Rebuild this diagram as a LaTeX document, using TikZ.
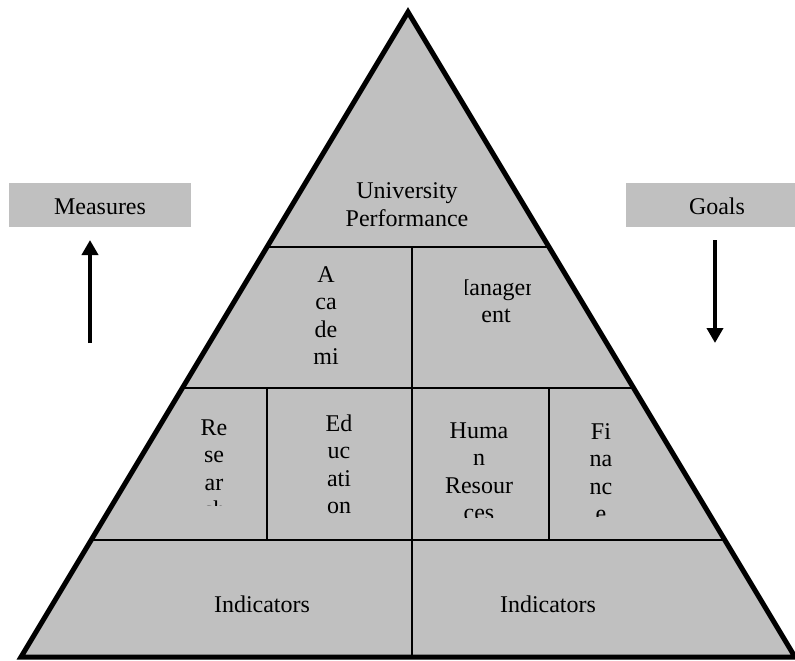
\documentclass[tikz,border=0pt]{standalone}
\usepackage{fontspec}
\setmainfont{Liberation Serif}
\usetikzlibrary{arrows.meta,calc}
\definecolor{silver}{HTML}{C0C0C0}
\begin{document}
\begin{tikzpicture}[x=1pt,y=-1pt,
  lbl/.style={inner sep=0pt,align=center,anchor=base,
    font=\fontsize{24}{27.5}\selectfont},
  outline/.style={line width=5pt,line join=miter},
  divider/.style={line width=2.6pt},
  tag/.style={fill=silver,draw=none},
  flow/.style={line width=4.5pt,-{Triangle[length=15pt,width=16pt]}}]
\useasboundingbox (0,0) rectangle (795,661);

% pyramid corners
\coordinate (apex) at (408,12);
\coordinate (bl) at (21,657);
\coordinate (br) at (795,657);

% band edges on the two sides
\coordinate (l1) at ($(apex)!0.3643!(bl)$);
\coordinate (r1) at ($(apex)!0.3643!(br)$);
\coordinate (l2) at ($(apex)!0.5829!(bl)$);
\coordinate (r2) at ($(apex)!0.5829!(br)$);
\coordinate (l3) at ($(apex)!0.8186!(bl)$);
\coordinate (r3) at ($(apex)!0.8186!(br)$);

\fill[silver] (apex) -- (bl) -- (br) -- cycle;

% horizontal bands
\draw[divider] (l1) -- (r1);
\draw[divider] (l2) -- (r2);
\draw[divider] (l3) -- (r3);
% vertical splits
\coordinate (m1) at (412,247);
\coordinate (m4) at (412,657);
\draw[divider] (m1) -- (m4);
\coordinate (a2) at (267,388);
\coordinate (a3) at (267,540);
\draw[divider] (a2) -- (a3);
\coordinate (b2) at (549,388);
\coordinate (b3) at (549,540);
\draw[divider] (b2) -- (b3);

\draw[outline] (apex) -- (bl) -- (br) -- cycle;

% labels (anchored at the baseline of their last line)
\node[lbl] (perf) at (407,226) {University\\Performance};

\begin{scope}
  \clip (190,250) rectangle (405,374);
  \node[lbl] (acad) at (326,392) {A\\ca\\de\\mi\\c};
\end{scope}
\begin{scope}
  \clip (465,250) rectangle (530,380);
  \node[lbl] (mgmt) at (496,322.5) {Managem\\ent};
\end{scope}
\begin{scope}
  \clip (185,395) rectangle (262,505);
  \node[lbl] (res) at (214,517.5) {Re\\se\\ar\\ch};
\end{scope}
\node[lbl] (edu) at (339,513.5) {Ed\\uc\\ati\\on};
\begin{scope}
  \clip (418,395) rectangle (544,517);
  \node[lbl] (hr) at (479,520.5) {Huma\\n\\Resour\\ces};
\end{scope}
\begin{scope}
  \clip (555,395) rectangle (650,516);
  \node[lbl] (fin) at (601,521.5) {Fi\\na\\nc\\e};
\end{scope}

\node[lbl] (indl) at (262,612) {Indicators};
\node[lbl] (indr) at (548,612) {Indicators};

% side tags
\fill[tag] (9,183) rectangle (191,227);
\node[lbl] (meas) at (100,214) {Measures};
\fill[tag] (626,183) rectangle (795,227);
\node[lbl] (goals) at (717,214) {Goals};

\coordinate (mt) at (90,343);
\coordinate (mh) at (90,240);
\draw[flow] (mt) -- (mh);
\coordinate (gt) at (715,240);
\coordinate (gh) at (715,343);
\draw[flow] (gt) -- (gh);
\end{tikzpicture}
\end{document}
